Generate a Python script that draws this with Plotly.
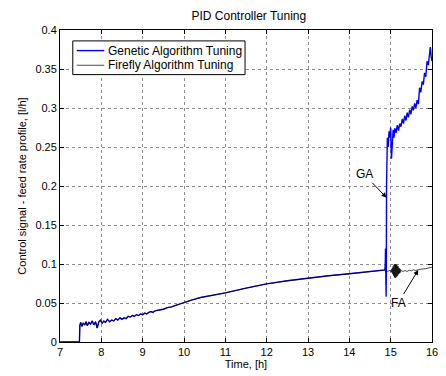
import plotly.graph_objects as go

# shared early portion (both tunings coincide until ~14.85 h)
t_common = [7.00, 7.47, 7.48, 7.50, 7.53, 7.56, 7.60, 7.63, 7.66, 7.70, 7.74, 7.78, 7.82,
            7.86, 7.90, 7.94, 7.98, 8.02, 8.06, 8.10, 8.15, 8.20, 8.25, 8.30, 8.35, 8.40,
            8.45, 8.50, 8.55, 8.60, 8.65, 8.70, 8.75, 8.80, 8.85, 8.90, 8.95, 9.00, 9.05,
            9.10, 9.15, 9.20, 9.25, 9.30, 9.40, 9.50, 9.60, 9.70, 9.80, 9.90, 10.0, 10.2,
            10.4, 10.6, 10.8, 11.0, 11.5, 12.0, 12.5, 13.0, 13.5, 14.0, 14.5, 14.85]
u_common = [0.0, 0.0, 0.021, 0.025, 0.020, 0.024, 0.022, 0.026, 0.021, 0.025, 0.023, 0.027, 0.022,
            0.026, 0.018, 0.026, 0.028, 0.024, 0.027, 0.025, 0.029, 0.026, 0.028, 0.027, 0.030, 0.028,
            0.031, 0.029, 0.031, 0.030, 0.033, 0.032, 0.034, 0.033, 0.035, 0.034, 0.036, 0.035, 0.037,
            0.036, 0.038, 0.039, 0.038, 0.040, 0.041, 0.042, 0.044, 0.045, 0.047, 0.049, 0.051, 0.054,
            0.057, 0.059, 0.061, 0.063, 0.069, 0.0745, 0.0785, 0.082, 0.085, 0.0875, 0.090, 0.0925]

# Genetic Algorithm tuning, after the switch
t_ga = [14.86, 14.87, 14.875, 14.88, 14.885, 14.89, 14.895, 14.90, 14.91, 14.92, 14.94, 14.96,
        14.98, 15.00, 15.02, 15.04, 15.06, 15.08, 15.10, 15.13, 15.16, 15.19, 15.22, 15.25,
        15.28, 15.31, 15.34, 15.37, 15.40, 15.43, 15.46, 15.49, 15.52, 15.55, 15.58, 15.61,
        15.64, 15.67, 15.70, 15.73, 15.76, 15.79, 15.82, 15.85, 15.88, 15.91, 15.94, 15.96,
        15.98, 16.00]
u_ga = [0.093, 0.100, 0.120, 0.095, 0.070, 0.058, 0.090, 0.200, 0.245, 0.262, 0.250, 0.270,
        0.262, 0.275, 0.235, 0.268, 0.272, 0.262, 0.274, 0.268, 0.278, 0.271, 0.280, 0.276,
        0.286, 0.280, 0.290, 0.284, 0.294, 0.288, 0.298, 0.292, 0.302, 0.297, 0.306, 0.300,
        0.310, 0.305, 0.326, 0.320, 0.334, 0.330, 0.345, 0.340, 0.360, 0.355, 0.372, 0.378,
        0.366, 0.360]

# Firefly Algorithm tuning, after the switch
t_fa = [14.86, 14.88, 14.90, 14.93, 14.96, 14.99, 15.01, 15.02, 15.03, 15.04, 15.05, 15.06,
        15.07, 15.08, 15.09, 15.10, 15.11, 15.12, 15.13, 15.14, 15.15, 15.16, 15.17, 15.18,
        15.19, 15.20, 15.21, 15.22, 15.23, 15.24, 15.26, 15.30, 15.35, 15.40, 15.45, 15.50,
        15.55, 15.60, 15.67, 15.75, 15.85, 15.95, 16.00]
u_fa = [0.092, 0.090, 0.091, 0.0905, 0.091, 0.092, 0.090, 0.093, 0.089, 0.095, 0.087, 0.097,
        0.085, 0.099, 0.083, 0.100, 0.082, 0.100, 0.083, 0.099, 0.084, 0.098, 0.085, 0.097,
        0.087, 0.095, 0.088, 0.094, 0.089, 0.093, 0.091, 0.0905, 0.0915, 0.0905, 0.092, 0.0912,
        0.0925, 0.0918, 0.093, 0.0935, 0.094, 0.0955, 0.096]

x_ticks = [7, 8, 9, 10, 11, 12, 13, 14, 15, 16]
y_ticks = [0, 0.05, 0.1, 0.15, 0.2, 0.25, 0.3, 0.35, 0.4]
y_tick_text = ["0", "0.05", "0.1", "0.15", "0.2", "0.25", "0.3", "0.35", "0.4"]

series_names = ["Genetic Algorithm Tuning", "Firefly Algorithm Tuning"]
series_colors = ["#0000ff", "black"]

FONT = "Liberation Sans, Arial, sans-serif"

fig = go.Figure()
fig.add_trace(go.Scatter(x=t_common + t_ga, y=u_common + u_ga, mode="lines",
                         name=series_names[0], showlegend=False,
                         line=dict(color=series_colors[0], width=1.4)))
fig.add_trace(go.Scatter(x=t_common + t_fa, y=u_common + u_fa, mode="lines",
                         name=series_names[1], showlegend=False,
                         line=dict(color=series_colors[1], width=0.7)))

fig.add_annotation(x=14.90, y=0.185, ax=14.36, ay=0.215, xref="x", yref="y",
                   axref="x", ayref="y", text="GA", showarrow=True,
                   arrowhead=2, arrowsize=1, arrowwidth=1, arrowcolor="black",
                   font=dict(family=FONT, size=12, color="black"))
fig.add_annotation(x=15.667, y=0.0924, ax=15.19, ay=0.0506, xref="x", yref="y",
                   axref="x", ayref="y", text="FA", showarrow=True,
                   arrowhead=2, arrowsize=1, arrowwidth=1, arrowcolor="black",
                   font=dict(family=FONT, size=12, color="black"))

# legend box drawn in the MATLAB style (compact)
fig.add_shape(type="rect", xref="paper", yref="paper", x0=0.0344, x1=0.4974, y0=0.857, y1=0.965,
              line=dict(color="black", width=1), fillcolor="white", layer="above")
legend_rows = [0.934, 0.887]
for name, color, yy, w in zip(series_names, series_colors, legend_rows, [1.4, 0.7]):
    fig.add_shape(type="line", xref="paper", yref="paper", x0=0.045, x1=0.119, y0=yy, y1=yy,
                  line=dict(color=color, width=w), layer="above")
    fig.add_annotation(xref="paper", yref="paper", x=0.1243, y=yy, xanchor="left", yanchor="middle",
                       text=name, showarrow=False,
                       font=dict(family=FONT, size=12, color="black"))

axis_common = dict(showline=True, linecolor="black", linewidth=1, mirror="ticks",
                   ticks="inside", ticklen=4, tickcolor="black",
                   showgrid=True, gridcolor="#8c8c8c", griddash="dot", gridwidth=1,
                   zeroline=False, tickfont=dict(family=FONT, size=11, color="black"))

fig.update_xaxes(range=[7, 16], tickvals=x_ticks, title=dict(text="Time, [h]", standoff=2,
                 font=dict(family=FONT, size=11, color="black")), **axis_common)
fig.update_yaxes(range=[0, 0.4], tickvals=y_ticks, ticktext=y_tick_text,
                 title=dict(text="Control signal - feed rate profile, [l/h]", standoff=6,
                            font=dict(family=FONT, size=11, color="black")), **axis_common)

fig.update_layout(
    width=446, height=376,
    margin=dict(l=60, r=8, t=30, b=31),
    paper_bgcolor="white", plot_bgcolor="white",
    title=dict(text="PID Controller Tuning", x=0.558, xanchor="center", y=0.957, yanchor="middle",
               font=dict(family=FONT, size=12, color="black")),
    showlegend=False,
)

fig.write_html("out.html")
